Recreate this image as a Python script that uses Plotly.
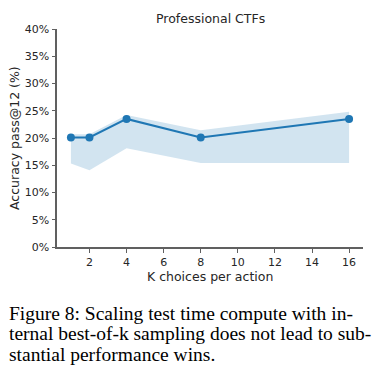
import plotly.graph_objects as go

k_values = [1, 2, 4, 8, 16]
accuracy = [20.1, 20.1, 23.5, 20.1, 23.5]
band_upper = [20.7, 20.7, 24.2, 21.4, 24.8]
band_lower = [15.3, 14.1, 18.1, 15.4, 15.4]
x_ticks = [2, 4, 6, 8, 10, 12, 14, 16]
y_ticks = [0, 5, 10, 15, 20, 25, 30, 35, 40]
y_tick_labels = [f"{v}%" for v in y_ticks]
title_text = "Professional CTFs"
x_title = "K choices per action"
y_title = "Accuracy pass@12 (%)"
caption_lines = [
    "Figure 8: Scaling test time compute with in-",
    "ternal best-of-k sampling does not lead to sub-",
    "stantial performance wins.",
]

BLUE = "#1f77b4"
OFF = 8  # page body margin
W, H = 386, 374
# plot area in page coordinates
P_LEFT, P_RIGHT, P_TOP, P_BOTTOM = 57, 362.7, 29, 247.3
L = P_LEFT - OFF
T = P_TOP - OFF
R = W - (P_RIGHT - OFF)
B = H - (P_BOTTOM - OFF)
plot_h = P_BOTTOM - P_TOP
plot_w = P_RIGHT - P_LEFT

def py(p):
    return (P_BOTTOM - p) / plot_h

def px(p):
    return (p - P_LEFT) / plot_w

fig = go.Figure()
fig.add_trace(go.Scatter(x=k_values, y=band_upper, mode="lines", line=dict(width=0),
                         showlegend=False, hoverinfo="skip"))
fig.add_trace(go.Scatter(x=k_values, y=band_lower, mode="lines", line=dict(width=0),
                         fill="tonexty", fillcolor="rgba(31,119,180,0.2)",
                         showlegend=False, hoverinfo="skip"))
fig.add_trace(go.Scatter(x=k_values, y=accuracy, mode="lines+markers",
                         line=dict(color=BLUE, width=2),
                         marker=dict(color=BLUE, size=8), showlegend=False))

TF = dict(family="DejaVu Sans", size=12.5, color="#262626")
annotations = [
    dict(text=title_text, x=0.5, y=py(18), xref="paper", yref="paper",
         showarrow=False, xanchor="center", yanchor="middle", font=TF),
    dict(text=x_title, x=0.5, y=py(277), xref="paper", yref="paper",
         showarrow=False, xanchor="center", yanchor="middle", font=TF),
    dict(text=y_title, x=px(14), y=0.5, xref="paper", yref="paper", textangle=-90,
         showarrow=False, xanchor="center", yanchor="middle", font=TF),
]
baselines = [319.3, 340.0, 360.7]
fs = 19.5
for line, bl in zip(caption_lines, baselines):
    annotations.append(dict(text=line, x=px(7), y=py(bl - 0.3 * fs), xref="paper", yref="paper",
                            showarrow=False, xanchor="left", yanchor="middle",
                            font=dict(family="Liberation Serif", size=fs, color="black")))

fig.update_layout(
    width=W, height=H,
    margin=dict(l=L, r=R, t=T, b=B),
    paper_bgcolor="white", plot_bgcolor="white",
    annotations=annotations,
    xaxis=dict(range=[0.25, 16.75], tickvals=x_ticks, ticks="outside", ticklen=3.5,
               tickcolor="#606060", tickwidth=1, showline=True, linecolor="#606060",
               linewidth=2, showgrid=False, zeroline=False,
               tickfont=dict(family="DejaVu Sans", size=11, color="#262626")),
    yaxis=dict(range=[0, 40], tickvals=y_ticks, ticktext=y_tick_labels, ticks="outside",
               ticklen=3.5, tickcolor="#606060", tickwidth=1, showline=True,
               linecolor="#606060", linewidth=2, showgrid=False, zeroline=False,
               tickfont=dict(family="DejaVu Sans", size=11, color="#262626")),
)

fig.write_html("out.html")
